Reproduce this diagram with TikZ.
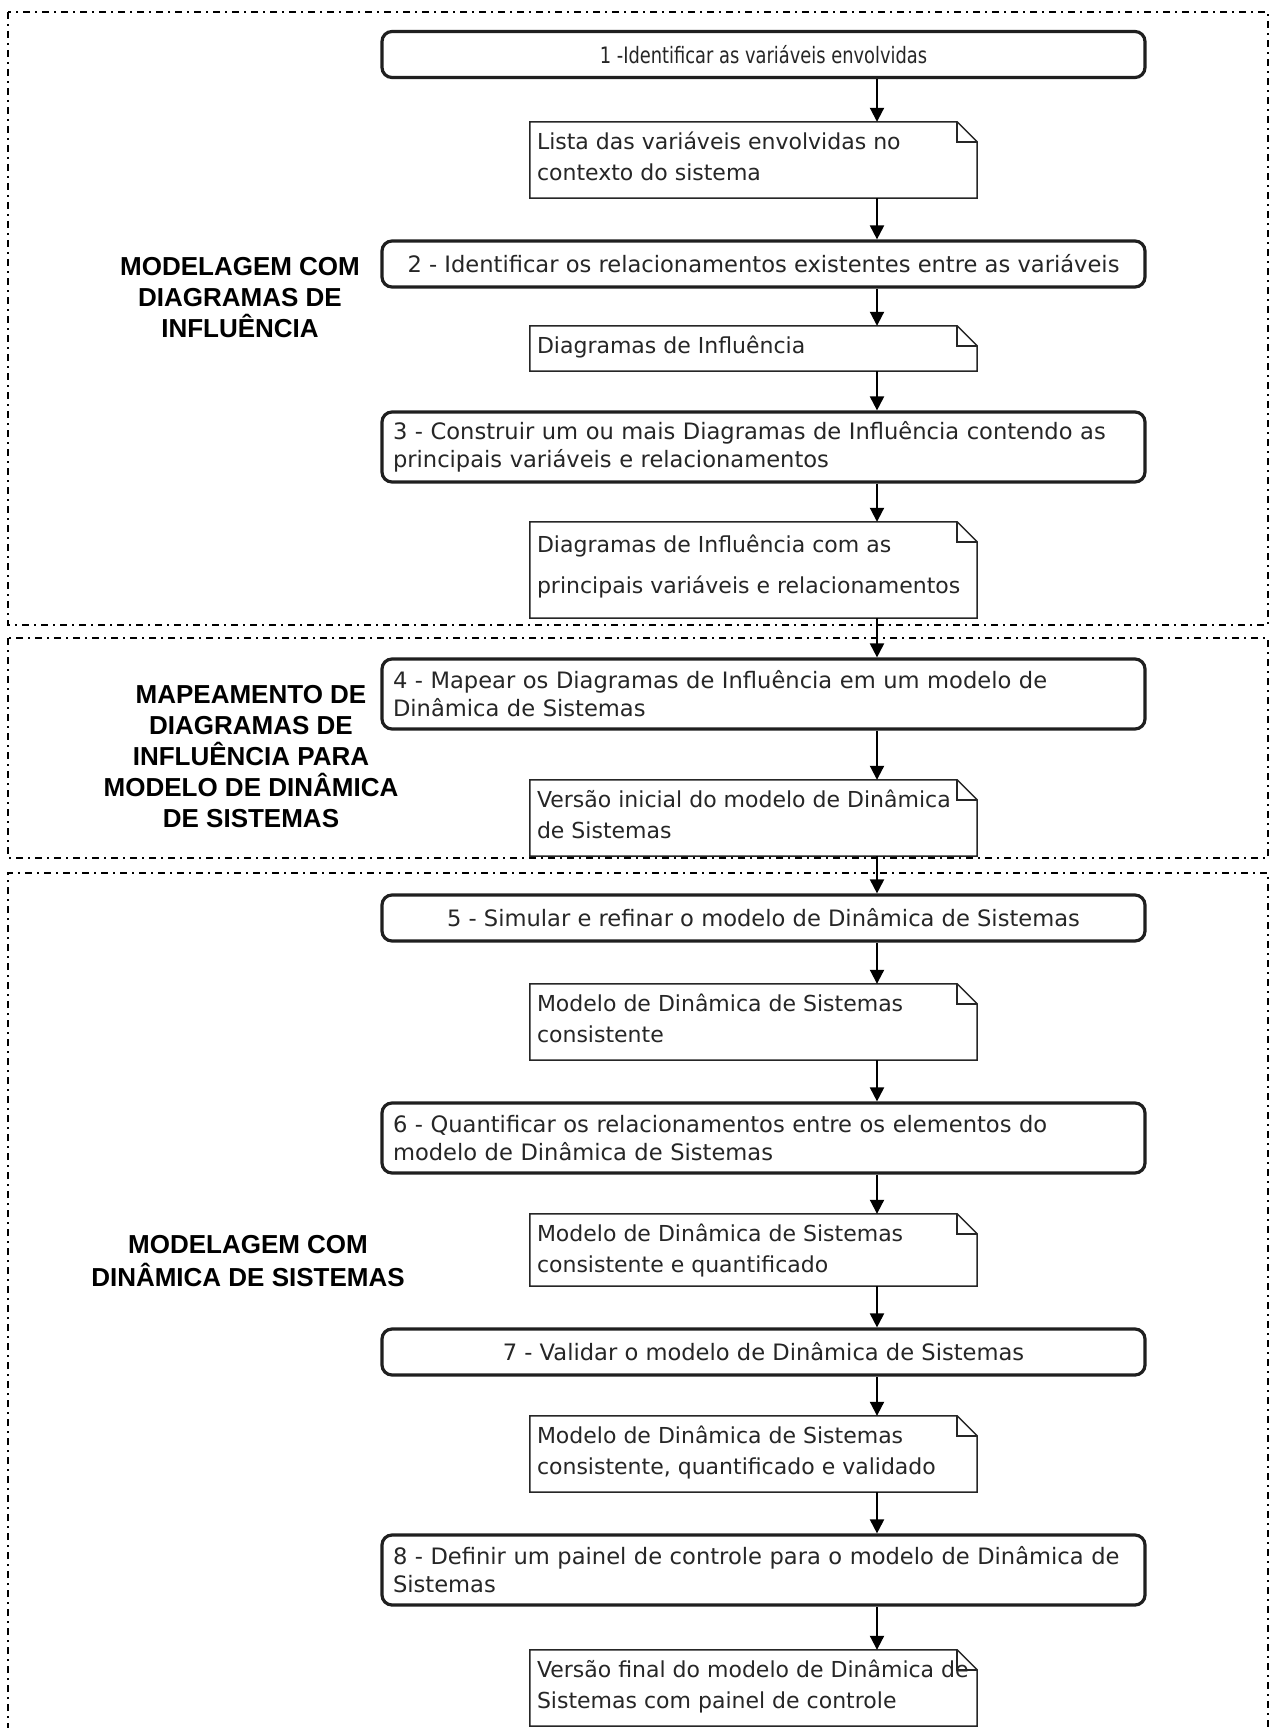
\documentclass[tikz,border=0pt]{standalone}
\usepackage{fontspec}
\setmainfont{DejaVu Sans}
\newfontfamily\labelfont{Liberation Sans}
\newfontfamily\narrowfont[FakeStretch=0.79]{DejaVu Sans}
\usetikzlibrary{arrows.meta}

% text sizes
\newcommand\steptext{\fontsize{22.6pt}{28pt}\selectfont}
\newcommand\notetext{\fontsize{22pt}{31pt}\selectfont}
\newcommand\phasetext{\labelfont\bfseries\fontsize{26pt}{31pt}\selectfont}

% folded-corner outline drawn around a rectangular node
\newcommand\foldnote[1]{%
  \draw[noteline] (#1.north west) -- ([xshift=-20pt]#1.north east)
    -- ([yshift=-20pt]#1.north east) -- (#1.south east) -- (#1.south west) -- cycle;
  \draw[noteline] ([xshift=-20pt]#1.north east) |- ([yshift=-20pt]#1.north east);
}

\begin{document}
\begin{tikzpicture}[x=1pt,y=-1pt,
  region/.style={line width=1.6pt, black, dash pattern=on 7pt off 5pt on 2pt off 5pt},
  stepbox/.style={draw=black!88, line width=3.2pt, rounded corners=10pt, fill=white,
    minimum width=763pt, inner xsep=11pt, inner ysep=0pt, font=\steptext, text=black!85},
  twoline/.style={stepbox, text width=741pt, align=left, minimum height=70pt},
  oneline/.style={stepbox, minimum height=46pt},
  notebox/.style={draw=none, fill=white, minimum width=447pt, inner sep=0pt},
  noteline/.style={line width=1.5pt, black!85, line join=miter},
  notelabel/.style={anchor=north west, xshift=7pt, yshift=-10pt, inner sep=0pt,
    align=left, font=\notetext, text=black!85},
  phase/.style={align=center, inner sep=0pt, font=\phasetext, text=black},
  flow/.style={line width=2pt, black, -{Triangle[width=14pt,length=14pt]}}
]
\useasboundingbox (0,0) rectangle (1278,1728);
\fill[white] (0,0) rectangle (1278,1728);

% phase frames
\draw[region] (8,12) rectangle (1268,625);
\draw[region] (8,638) rectangle (1268,858);
\draw[region] (8,1730) -- (8,873) -- (1268,873) -- (1268,1730);

% phase titles
\node[phase] (p1) at (240,298) {MODELAGEM COM\\DIAGRAMAS DE\\INFLUÊNCIA};
\node[phase] (p2) at (251,757) {MAPEAMENTO DE\\DIAGRAMAS DE\\INFLUÊNCIA PARA\\MODELO DE DINÂMICA\\DE SISTEMAS};
\node[phase, font=\labelfont\bfseries\fontsize{26pt}{33pt}\selectfont] (p3) at (248,1261) {MODELAGEM COM\\DINÂMICA DE SISTEMAS};

% steps
\node[oneline, font=\narrowfont\steptext] (b1) at (763.5,54.5) {1 -Identificar as variáveis envolvidas};
\node[oneline] (b2) at (763.5,264) {2 - Identificar os relacionamentos existentes entre as variáveis};
\node[twoline] (b3) at (763.5,447) {3 - Construir um ou mais Diagramas de Influência contendo as\\principais variáveis e relacionamentos};
\node[twoline] (b4) at (763.5,694) {4 - Mapear os Diagramas de Influência em um modelo de\\Dinâmica de Sistemas};
\node[oneline] (b5) at (763.5,918) {5 - Simular e refinar o modelo de Dinâmica de Sistemas};
\node[twoline] (b6) at (763.5,1138) {6 - Quantificar os relacionamentos entre os elementos do\\modelo de Dinâmica de Sistemas};
\node[oneline] (b7) at (763.5,1352) {7 - Validar o modelo de Dinâmica de Sistemas};
\node[twoline] (b8) at (763.5,1570) {8 - Definir um painel de controle para o modelo de Dinâmica de\\Sistemas};

% products
\node[notebox, minimum height=76pt] (n1) at (753.5,160) {};
\node[notebox, minimum height=45pt] (n2) at (753.5,348.5) {};
\node[notebox, minimum height=96pt] (n3) at (753.5,570) {};
\node[notebox, minimum height=76pt] (n4) at (753.5,818) {};
\node[notebox, minimum height=76pt] (n5) at (753.5,1022) {};
\node[notebox, minimum height=72pt] (n6) at (753.5,1250) {};
\node[notebox, minimum height=76pt] (n7) at (753.5,1454) {};
\node[notebox, minimum height=76pt] (n8) at (753.5,1688) {};
\foreach \n in {n1,n2,n3,n4,n5,n6,n7,n8} {\foldnote{\n}}

\node[notelabel] (t1) at (n1.north west) {Lista das variáveis envolvidas no\\contexto do sistema};
\node[notelabel] (t2) at (n2.north west) {Diagramas de Influência};
\node[notelabel, yshift=-3pt] (t3) at (n3.north west) {Diagramas de Influência com as\\[10pt]principais variáveis e relacionamentos};
\node[notelabel] (t4) at (n4.north west) {Versão inicial do modelo de Dinâmica\\de Sistemas};
\node[notelabel] (t5) at (n5.north west) {Modelo de Dinâmica de Sistemas\\consistente};
\node[notelabel] (t6) at (n6.north west) {Modelo de Dinâmica de Sistemas\\consistente e quantificado};
\node[notelabel] (t7) at (n7.north west) {Modelo de Dinâmica de Sistemas\\consistente, quantificado e validado};
\node[notelabel] (t8) at (n8.north west) {Versão final do modelo de Dinâmica de\\Sistemas com painel de controle};

% flow
\coordinate (ax) at (877,0);
\foreach \a/\b in {b1/n1,n1/b2,b2/n2,n2/b3,b3/n3,n3/b4,b4/n4,n4/b5,b5/n5,n5/b6,b6/n6,n6/b7,b7/n7,n7/b8,b8/n8}
  \draw[flow] (\a.south -| ax) -- (\b.north -| ax);
\end{tikzpicture}
\end{document}
